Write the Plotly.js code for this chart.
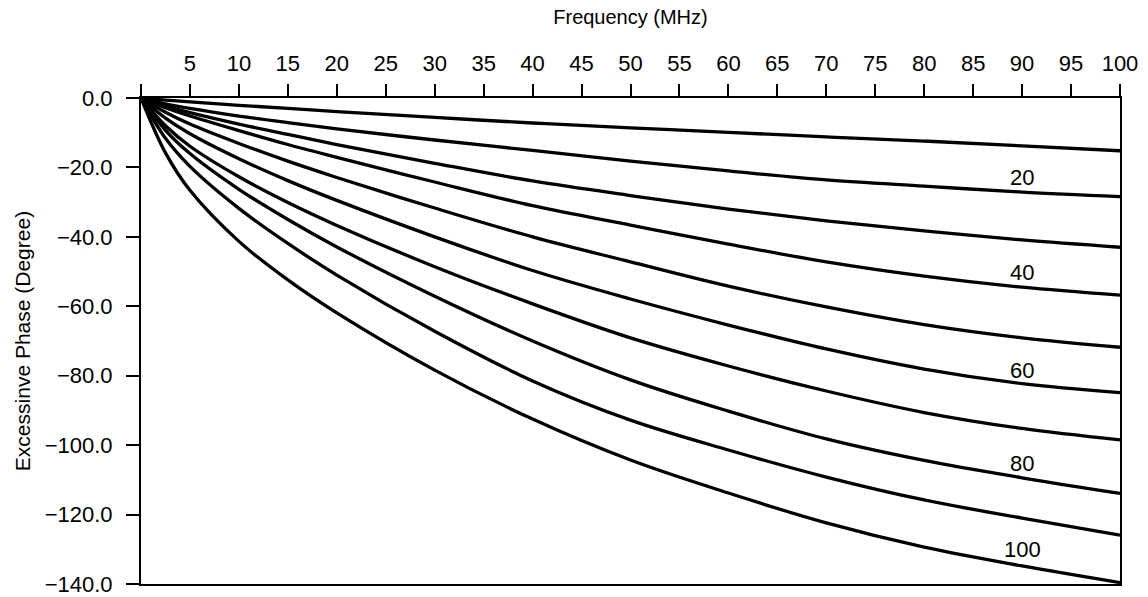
<!DOCTYPE html>
<html>
<head>
<meta charset="utf-8">
<script src="https://cdn.plot.ly/plotly-3.0.1.min.js"></script>
<style>html,body{margin:0;padding:0;background:#fff;}#chart{width:1148px;height:597px;}</style>
</head>
<body>
<div id="chart"></div>
<script>
// Frequency sample points (MHz)
const freq = [0, 2.5, 5, 10, 15, 20, 30, 40, 50, 60, 70, 80, 90, 100];

// Excessive phase (degree) for the ten curves, top to bottom
const curve1  = [0, -0.6, -1.1, -2.1, -3.0, -3.9, -5.6, -7.2, -8.6, -9.9, -11.2, -12.4, -13.8, -15.2];
const curve2  = [0, -1.7, -3.0, -5.2, -7.1, -8.9, -12.1, -15.1, -18.2, -21.0, -23.6, -25.4, -27.1, -28.4];
const curve3  = [0, -2.3, -4.2, -7.5, -10.5, -13.4, -18.8, -23.9, -28.1, -32.0, -35.4, -38.3, -40.9, -43.0];
const curve4  = [0, -2.8, -5.2, -9.4, -13.4, -17.1, -24.2, -31.0, -36.6, -42.1, -47.2, -51.3, -54.5, -56.8];
const curve5  = [0, -4.1, -7.5, -13.1, -18.2, -22.9, -31.7, -40.0, -47.2, -54.2, -60.2, -65.3, -69.1, -71.8];
const curve6  = [0, -5.8, -10.3, -17.5, -23.8, -29.5, -40.0, -49.7, -57.9, -65.4, -72.3, -78.1, -82.3, -84.9];
const curve7  = [0, -8.0, -13.9, -22.7, -30.1, -36.7, -48.6, -59.3, -69.1, -77.2, -84.4, -90.6, -95.2, -98.5];
const curve8  = [0, -9.3, -16.0, -26.3, -35.0, -42.9, -57.1, -70.0, -81.2, -90.2, -98.2, -104.4, -109.4, -113.9];
const curve9  = [0, -11.6, -19.7, -31.8, -41.9, -51.0, -67.2, -81.5, -92.8, -101.4, -109.2, -115.8, -121.0, -125.9];
const curve10 = [0, -15.8, -26.6, -41.3, -52.4, -61.9, -78.4, -92.5, -104.3, -113.8, -122.4, -129.4, -134.8, -139.6];

// Curve labels
const labelText = ["20", "40", "60", "80", "100"];
const labelX    = [90, 90, 90, 90, 90];
const labelY    = [-23.0, -50.4, -78.4, -105.2, -130.2];

// Tick definitions
const xTickVals = [0,5,10,15,20,25,30,35,40,45,50,55,60,65,70,75,80,85,90,95,100];
const xTickText = ["","5","10","15","20","25","30","35","40","45","50","55","60","65","70","75","80","85","90","95","100"];
const yTickVals = [0,-20,-40,-60,-80,-100,-120,-140];

const curves = [curve1, curve2, curve3, curve4, curve5, curve6, curve7, curve8, curve9, curve10];
const FONT = "Liberation Sans, Arial, Helvetica, sans-serif";

const traces = curves.map(c => ({
  x: freq, y: c, type: "scatter", mode: "lines",
  line: {color: "#000", width: 3.3, shape: "spline", smoothing: 1},
  hoverinfo: "skip", showlegend: false, xaxis: "x", yaxis: "y"
}));

const annotations = labelText.map((t, i) => ({
  x: labelX[i], y: labelY[i], xref: "x", yref: "y", text: t,
  showarrow: false, font: {family: FONT, size: 22, color: "#000"}
}));

const layout = {
  width: 1148, height: 597,
  margin: {l: 141, r: 28, t: 98, b: 13},
  paper_bgcolor: "#fff", plot_bgcolor: "#fff",
  font: {family: FONT, size: 20, color: "#000"},
  xaxis: {
    range: [0, 100], side: "top", showgrid: false, zeroline: false,
    showline: true, linecolor: "#000", linewidth: 2, mirror: true,
    ticks: "outside", ticklen: 12, tickwidth: 2, tickcolor: "#000",
    tickvals: xTickVals, ticktext: xTickText, ticklabelstandoff: 4,
    tickfont: {family: FONT, size: 22, color: "#000"},
    title: {text: "Frequency (MHz)", font: {family: FONT, size: 20, color: "#000"}, standoff: 21},
    fixedrange: true
  },
  xaxis2: {
    range: [0, 100], overlaying: "x", anchor: "y", side: "top",
    showgrid: false, zeroline: false, showline: false,
    ticks: "inside", ticklen: 12, tickwidth: 2, tickcolor: "#000",
    tickvals: xTickVals, showticklabels: false, fixedrange: true
  },
  yaxis: {
    range: [-140, 0], showgrid: false, zeroline: false,
    showline: true, linecolor: "#000", linewidth: 2, mirror: true,
    ticks: "outside", ticklen: 13, tickwidth: 2, tickcolor: "#000",
    tickvals: yTickVals, tickformat: ".1f", ticklabelstandoff: 9,
    tickfont: {family: FONT, size: 22, color: "#000"},
    title: {text: "Excessinve Phase (Degree)", font: {family: FONT, size: 21, color: "#000"}, standoff: 8},
    fixedrange: true
  },
  yaxis2: {
    range: [-140, 0], overlaying: "y", anchor: "x", side: "left",
    showgrid: false, zeroline: false, showline: false,
    ticks: "inside", ticklen: 13, tickwidth: 2, tickcolor: "#000",
    tickvals: yTickVals, showticklabels: false, fixedrange: true
  },
  annotations: annotations
};

Plotly.newPlot("chart", traces, layout, {staticPlot: true, displayModeBar: false});
</script>
</body>
</html>
